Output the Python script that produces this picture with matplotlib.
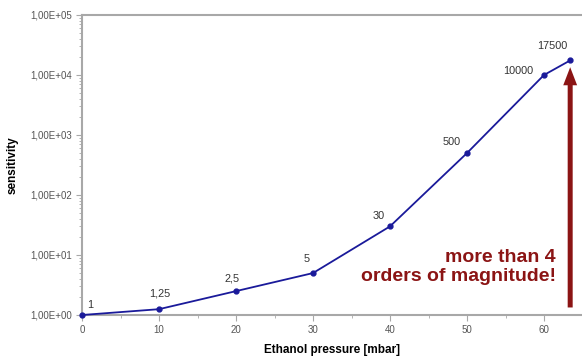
"""Sensitivity vs ethanol pressure - log scale line chart to out.png."""
import matplotlib
matplotlib.use("Agg")
import matplotlib.pyplot as plt
from matplotlib.ticker import FuncFormatter, LogLocator, MultipleLocator

plt.rcParams["font.family"] = ["Liberation Sans", "DejaVu Sans"]

pressure    = [0, 10, 20, 30, 40, 50, 60, 63.4]
sensitivity = [1, 1.25, 2.5, 5, 30, 500, 10000, 17500]
labels      = ["1", "1,25", "2,5", "5", "30", "500", "10000", "17500"]
x_ticks     = [0, 10, 20, 30, 40, 50, 60]

# label offsets in pixels (style only)
offsets = [(8, 10), (1, 16), (-4, 13), (-6, 14), (-11, 10), (-15, 11), (-26, 4), (-18, 14)]

GRAY = "#a8a8a8"
BLUE = "#1a1a9a"
RED  = "#8b1414"

fig = plt.figure(figsize=(5.82, 3.56), dpi=100)
ax = fig.add_axes([82 / 582, 41 / 356, 500 / 582, 300 / 356])

ax.plot(pressure, sensitivity, color=BLUE, lw=1.3, marker="o", ms=3.5, clip_on=False, zorder=3)
for x, y, t, (dx, dy) in zip(pressure, sensitivity, labels, offsets):
    ax.annotate(t, (x, y), xytext=(dx, dy), textcoords="offset pixels",
                ha="center", va="center", fontsize=7.8, color="#333333")

ax.set_yscale("log")
ax.set_ylim(1, 1e5)
ax.set_xlim(0, 500 / 7.7)
ax.set_xticks(x_ticks)
ax.xaxis.set_minor_locator(MultipleLocator(5))
ax.yaxis.set_major_locator(LogLocator(base=10, numticks=10))
ax.yaxis.set_minor_locator(LogLocator(base=10, subs=range(2, 10), numticks=10))
ax.yaxis.set_major_formatter(FuncFormatter(lambda v, p: f"{v:.2E}".replace(".", ",")))
ax.yaxis.set_minor_formatter(FuncFormatter(lambda v, p: ""))

for s in ["left", "bottom", "top"]:
    ax.spines[s].set_color(GRAY)
    ax.spines[s].set_linewidth(1.5)
ax.spines["right"].set_visible(False)
ax.tick_params(which="both", colors=GRAY, labelcolor="#555555", labelsize=7)
ax.tick_params(which="major", length=4)
ax.tick_params(which="minor", length=2)

ax.set_xlabel("Ethanol pressure [mbar]", fontsize=8.5, fontweight="bold", labelpad=6)
ax.set_ylabel("sensitivity", fontsize=8.5, fontweight="bold", labelpad=8)

# arrow and callout
ax.annotate("", xy=(63.4, 1.5e4), xytext=(63.4, 1.2),
            arrowprops=dict(arrowstyle="simple,head_width=1.0,head_length=1.3,tail_width=0.36",
                            mutation_scale=10, color=RED, lw=0))
fig.text(556 / 582, (356 - 267) / 356, "more than 4\norders of magnitude!",
         ha="right", va="center", fontsize=14, fontweight="bold", color=RED,
         linespacing=1.15)

fig.savefig("out.png", dpi=100)
